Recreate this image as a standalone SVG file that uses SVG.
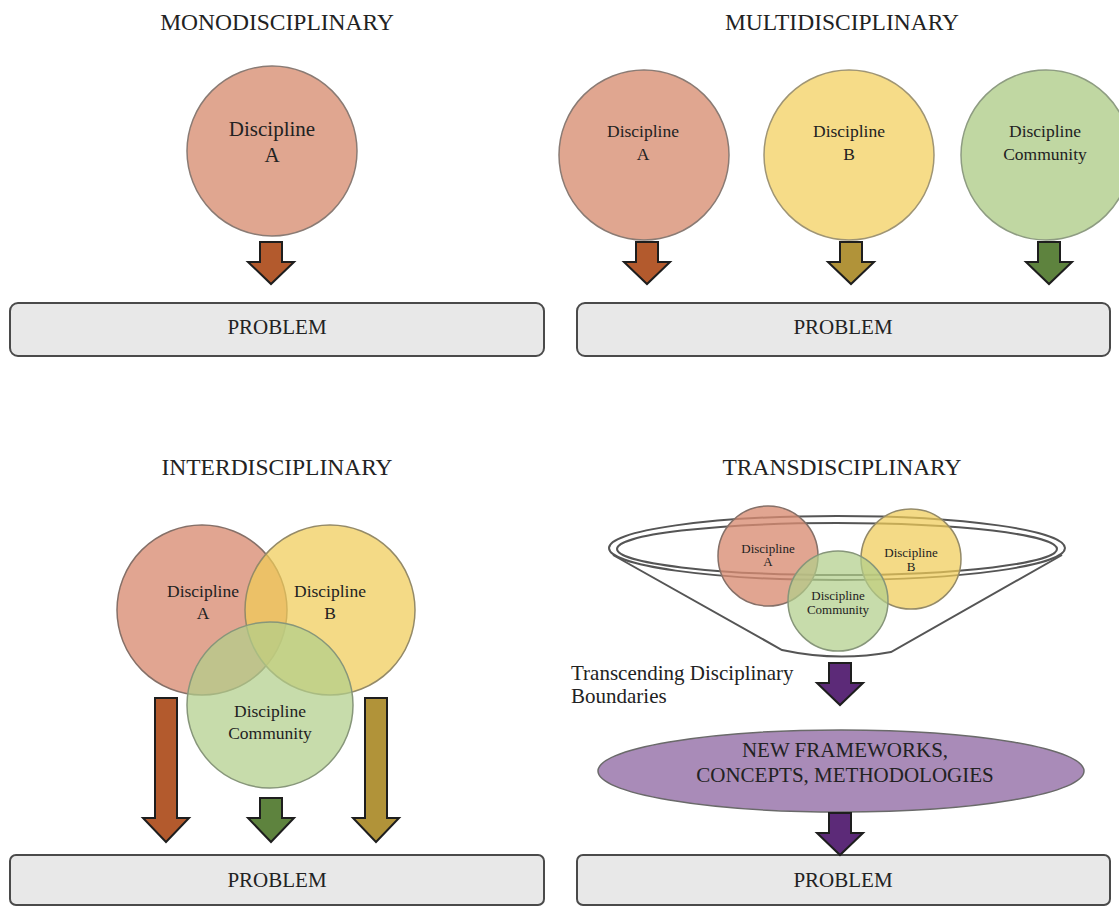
<svg xmlns="http://www.w3.org/2000/svg" width="1119" height="906" viewBox="0 0 1119 906">
<style>
text{font-family:"Liberation Serif","Times New Roman",serif;fill:#222;text-anchor:middle}
.title{font-size:23.5px}
.prob{font-size:21px}
.box{fill:#e8e8e8;stroke:#4a4a4a;stroke-width:2}
.cA{fill:#e0a690;stroke:#8a7b74;stroke-width:1.5}
.cB{fill:#f6dc88;stroke:#9f9575;stroke-width:1.5}
.cC{fill:#c0d7a2;stroke:#8e9c82;stroke-width:1.5}
.vA{fill:#d88c72;fill-opacity:0.78;stroke:#857068;stroke-width:1.5}
.vB{fill:#f0cc58;fill-opacity:0.72;stroke:#948a68;stroke-width:1.5}
.vC{fill:#b1ce8b;fill-opacity:0.72;stroke:#87967a;stroke-width:1.5}
.arr{stroke:#1e1e1e;stroke-width:2;stroke-linejoin:miter}
.brown{fill:#b35a2d}.olive{fill:#b19339}.green{fill:#5e833e}.purple{fill:#5c2a78}
.funnel{fill:none;stroke:#555;stroke-width:2}
.lbl{font-size:17.5px}
.sm{font-size:13px}
</style>
<defs>
<path id="arrShort" d="M -11,-42 L 11,-42 L 11,-22 L 23,-22 L 0,0 L -23,-22 L -11,-22 Z"/>
<path id="arrLong" d="M -11,-144 L 11,-144 L 11,-24 L 23,-24 L 0,0 L -23,-24 L -11,-24 Z"/>
<path id="arrMid" d="M -11,-44 L 11,-44 L 11,-24 L 23,-24 L 0,0 L -23,-24 L -11,-24 Z"/>
</defs>

<!-- Titles -->
<g id="titles">
<text class="title" x="277" y="30">MONODISCIPLINARY</text>
<text class="title" x="842" y="30">MULTIDISCIPLINARY</text>
<text class="title" x="277" y="475">INTERDISCIPLINARY</text>
<text class="title" x="842" y="475">TRANSDISCIPLINARY</text>
</g>

<!-- Monodisciplinary -->
<g id="mono-discA">
<circle class="cA" cx="272" cy="151" r="85"/>
<text x="272" y="136" style="font-size:21px">Discipline</text>
<text x="272" y="162" style="font-size:21px">A</text>
</g>
<g id="mono-problem">
<rect class="box" x="10" y="303" width="534" height="53" rx="8"/>
<text class="prob" x="277" y="334">PROBLEM</text>
</g>

<!-- Multidisciplinary -->
<g id="multi-discA">
<circle class="cA" cx="644" cy="155" r="85"/>
<text class="lbl" x="643" y="137">Discipline</text>
<text class="lbl" x="643" y="160">A</text>
</g>
<g id="multi-discB">
<circle class="cB" cx="849" cy="155" r="85"/>
<text class="lbl" x="849" y="137">Discipline</text>
<text class="lbl" x="849" y="160">B</text>
</g>
<g id="multi-discC">
<circle class="cC" cx="1046" cy="155" r="85"/>
<text class="lbl" x="1045" y="137">Discipline</text>
<text class="lbl" x="1045" y="160">Community</text>
</g>
<g id="multi-problem">
<rect class="box" x="577" y="303" width="533" height="53" rx="8"/>
<text class="prob" x="843" y="334">PROBLEM</text>
</g>

<!-- Interdisciplinary -->
<g id="inter-discA">
<circle class="vA" cx="202" cy="610" r="85"/>
</g>
<g id="inter-discB">
<circle class="vB" cx="330" cy="610" r="85"/>
</g>
<g id="inter-discC">
<circle class="vC" cx="270" cy="705" r="83"/>
</g>
<g id="inter-labels">
<text class="lbl" x="203" y="597">Discipline</text>
<text class="lbl" x="203" y="619">A</text>
<text class="lbl" x="330" y="597">Discipline</text>
<text class="lbl" x="330" y="619">B</text>
<text class="lbl" x="270" y="717">Discipline</text>
<text class="lbl" x="270" y="739">Community</text>
</g>
<g id="inter-problem">
<rect class="box" x="10" y="855" width="534" height="50" rx="6"/>
<text class="prob" x="277" y="887">PROBLEM</text>
</g>

<!-- Transdisciplinary -->
<g id="trans-funnel">
<ellipse class="funnel" cx="837" cy="548" rx="228" ry="32"/>
<ellipse class="funnel" cx="837" cy="549" rx="220" ry="26"/>
<path class="funnel" d="M 613,555 L 782,650 Q 837,662 891,652 L 1062,555"/>
</g>
<g id="trans-discA">
<circle class="vA" cx="768" cy="556" r="50"/>
<text class="sm" x="768" y="553">Discipline</text>
<text class="sm" x="768" y="566">A</text>
</g>
<g id="trans-discB">
<circle class="vB" cx="911" cy="559" r="50"/>
<text class="sm" x="911" y="557">Discipline</text>
<text class="sm" x="911" y="571">B</text>
</g>
<g id="trans-discC">
<circle class="vC" cx="838" cy="601" r="50"/>
<text class="sm" x="838" y="600">Discipline</text>
<text class="sm" x="838" y="614">Community</text>
</g>
<g id="trans-label">
<text x="571" y="680" style="font-size:21px;text-anchor:start">Transcending Disciplinary</text>
<text x="571" y="703" style="font-size:21px;text-anchor:start">Boundaries</text>
</g>
<g id="trans-frameworks">
<ellipse cx="841" cy="771" rx="243" ry="41" fill="#a98bb8" stroke="#6a6a6a" stroke-width="1.5"/>
<text x="845" y="757" style="font-size:21px">NEW FRAMEWORKS,</text>
<text x="845" y="782" style="font-size:21px">CONCEPTS, METHODOLOGIES</text>
</g>
<g id="trans-problem">
<rect class="box" x="577" y="855" width="533" height="50" rx="6"/>
<text class="prob" x="843" y="887">PROBLEM</text>
</g>

<!-- Connectors (block arrows) -->
<g id="connectors">
<use href="#arrShort" class="arr brown" transform="translate(271,284)"/>
<use href="#arrShort" class="arr brown" transform="translate(647,284)"/>
<use href="#arrShort" class="arr olive" transform="translate(851,284)"/>
<use href="#arrShort" class="arr green" transform="translate(1049,284)"/>
<use href="#arrLong" class="arr brown" transform="translate(166,842)"/>
<use href="#arrMid" class="arr green" transform="translate(271,842)"/>
<use href="#arrLong" class="arr olive" transform="translate(376,842)"/>
<use href="#arrShort" class="arr purple" transform="translate(840,705)"/>
<use href="#arrShort" class="arr purple" transform="translate(840,855)"/>
</g>
</svg>
